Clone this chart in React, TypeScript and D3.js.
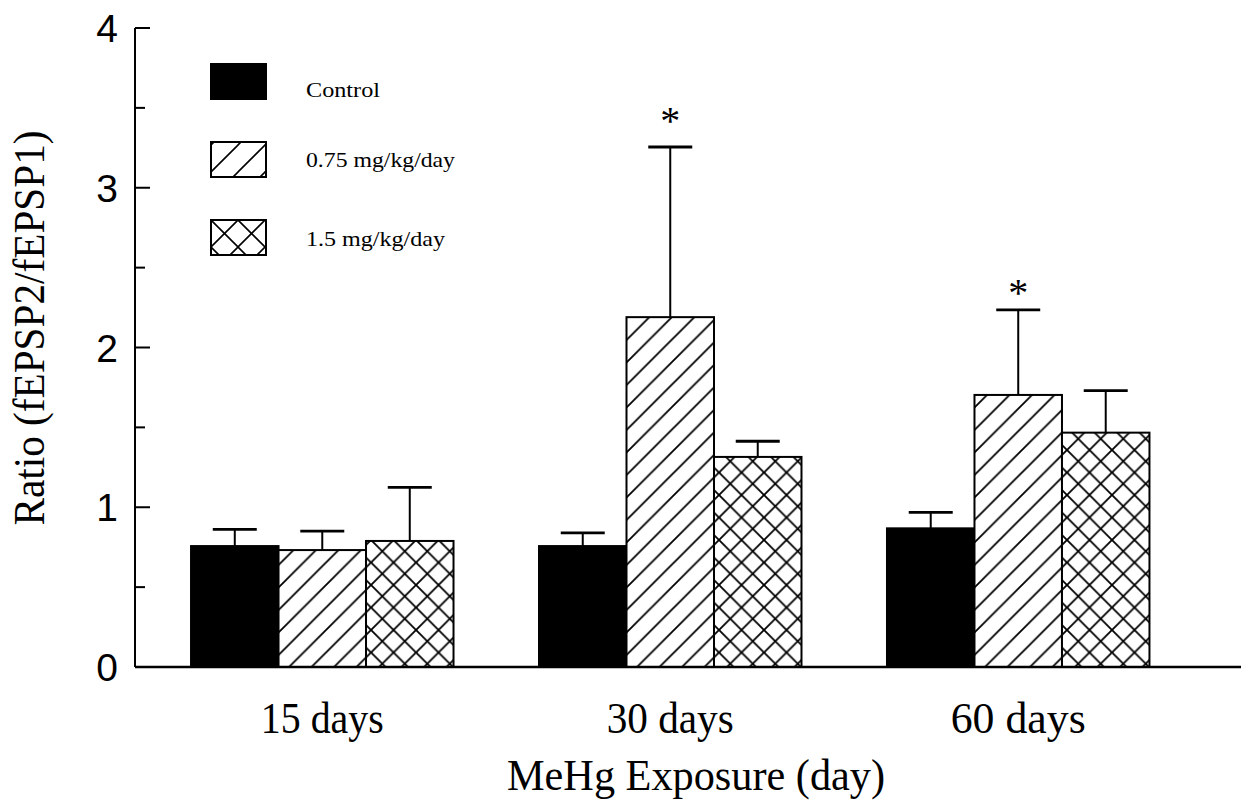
import React from 'react';
import * as d3 from 'd3';

const groups = ['15 days', '30 days', '60 days'];
const series = ['Control', '0.75 mg/kg/day', '1.5 mg/kg/day'];
const controlMean = [0.757, 0.757, 0.868];
const controlErr = [0.862, 0.84, 0.968];
const lowMean = [0.732, 2.19, 1.703];
const lowErr = [0.851, 3.255, 2.235];
const highMean = [0.789, 1.315, 1.467];
const highErr = [1.125, 1.413, 1.73];
const sigGroups = ['30 days', '60 days'];
const sigLevel = [3.45, 2.37];
const yTicks = [0, 1, 2, 3, 4];
const yMinorTicks = [0.5, 1.5, 2.5, 3.5];
const groupLabelWidths = [123, 127, 135];
const legendLabelWidths = [74, 149, 139];

const W = 1241;
const H = 810;
const axisX = 135;
const serif = '"Liberation Serif", "Times New Roman", serif';
const sans = '"Liberation Sans", Arial, sans-serif';

export default function App() {
  const y = d3.scaleLinear().domain([0, 4]).range([667, 28]);
  const x0 = d3
    .scaleBand<string>()
    .domain(groups)
    .range([148.3, 1192.2])
    .paddingInner(0.2457)
    .paddingOuter(0.1228);
  const x1 = d3.scaleBand<string>().domain(series).range([0, x0.bandwidth()]);
  const fills = ['#000', 'url(#diag)', 'url(#cross)'];
  const legendFills = ['#000', 'url(#diagL)', 'url(#crossL)'];
  const means = [controlMean, lowMean, highMean];
  const errs = [controlErr, lowErr, highErr];

  const s = 22.5;
  const diagPath = (p: number) =>
    `M0,${p} L${p},0 M${-p / 4},${p / 4} L${p / 4},${-p / 4} M${(3 * p) / 4},${(5 * p) / 4} L${(5 * p) / 4},${(3 * p) / 4}`;
  const backPath = (p: number) =>
    `M0,0 L${p},${p} M${-p / 4},${(3 * p) / 4} L${p / 4},${(5 * p) / 4} M${(3 * p) / 4},${-p / 4} L${(5 * p) / 4},${p / 4}`;
  const sl = 27;

  const legendY = [64, 142, 220];
  const legendBase = [97, 167, 246];

  return (
    <svg
      width={W}
      height={H}
      style={{ position: 'absolute', left: 0, top: 0, background: '#fff' }}
    >
      <defs>
        <pattern id="diag" patternUnits="userSpaceOnUse" width={s} height={s}>
          <rect width={s} height={s} fill="#fff" />
          <path d={diagPath(s)} stroke="#000" strokeWidth={1.8} />
        </pattern>
        <pattern id="cross" patternUnits="userSpaceOnUse" width={s} height={s}>
          <rect width={s} height={s} fill="#fff" />
          <path d={diagPath(s)} stroke="#000" strokeWidth={1.8} />
          <path d={backPath(s)} stroke="#000" strokeWidth={1.8} />
        </pattern>
        <pattern id="diagL" patternUnits="userSpaceOnUse" width={sl} height={sl} x={211} y={64}>
          <rect width={sl} height={sl} fill="#fff" />
          <path d={diagPath(sl)} stroke="#000" strokeWidth={1.6} />
        </pattern>
        <pattern id="crossL" patternUnits="userSpaceOnUse" width={sl} height={sl} x={211} y={220}>
          <rect width={sl} height={sl} fill="#fff" />
          <path d={diagPath(sl)} stroke="#000" strokeWidth={1.6} />
          <path d={backPath(sl)} stroke="#000" strokeWidth={1.6} />
        </pattern>
      </defs>

      {/* bars and error bars */}
      {groups.map((g, gi) => (
        <g key={g} transform={`translate(${x0(g)},0)`}>
          {series.map((sname, si) => {
            const bx = x1(sname) as number;
            const bw = x1.bandwidth();
            const cx = bx + bw / 2;
            const top = y(means[si][gi]);
            const et = y(errs[si][gi]);
            return (
              <g key={sname}>
                <line x1={cx} x2={cx} y1={top} y2={et} stroke="#000" strokeWidth={2} />
                <line x1={cx - 22} x2={cx + 22} y1={et} y2={et} stroke="#000" strokeWidth={2.8} />
                <rect
                  x={bx}
                  y={top}
                  width={bw}
                  height={y(0) - top}
                  fill={fills[si]}
                  stroke="#000"
                  strokeWidth={2}
                />
              </g>
            );
          })}
        </g>
      ))}

      {/* significance marks */}
      {sigGroups.map((g, i) => (
        <text
          key={g}
          x={(x0(g) as number) + (x1(series[1]) as number) + x1.bandwidth() / 2}
          y={y(sigLevel[i]) + 18}
          textAnchor="middle"
          fontFamily={serif}
          fontSize={40}
          fill="#000"
        >
          *
        </text>
      ))}

      {/* axes */}
      <line x1={axisX} x2={axisX} y1={y(4)} y2={y(0)} stroke="#000" strokeWidth={2} />
      <line x1={axisX} x2={W} y1={y(0)} y2={y(0)} stroke="#000" strokeWidth={2.5} />
      {yTicks.map((t) => (
        <g key={t}>
          <line x1={axisX} x2={axisX + 15} y1={y(t)} y2={y(t)} stroke="#000" strokeWidth={2} />
          <text
            x={118}
            y={y(t)}
            dy="0.36em"
            textAnchor="end"
            fontFamily={sans}
            fontSize={39}
            fill="#000"
          >
            {t}
          </text>
        </g>
      ))}
      {yMinorTicks.map((t) => (
        <line key={t} x1={axisX} x2={axisX + 10} y1={y(t)} y2={y(t)} stroke="#000" strokeWidth={2} />
      ))}

      {/* group labels */}
      {groups.map((g, gi) => (
        <text
          key={g}
          x={(x0(g) as number) + x0.bandwidth() / 2}
          y={733}
          textAnchor="middle"
          fontFamily={serif}
          fontSize={44}
          textLength={groupLabelWidths[gi]}
          lengthAdjust="spacingAndGlyphs"
          fill="#000"
        >
          {g}
        </text>
      ))}

      {/* axis titles */}
      <text
        x={696}
        y={790}
        textAnchor="middle"
        fontFamily={serif}
        fontSize={45}
        textLength={378}
        lengthAdjust="spacingAndGlyphs"
        fill="#000"
      >
        MeHg Exposure (day)
      </text>
      <text
        transform="translate(44,328) rotate(-90)"
        textAnchor="middle"
        fontFamily={serif}
        fontSize={44}
        textLength={395}
        lengthAdjust="spacingAndGlyphs"
        fill="#000"
      >
        Ratio (fEPSP2/fEPSP1)
      </text>

      {/* legend */}
      {series.map((sname, si) => (
        <g key={sname}>
          <rect
            x={211}
            y={legendY[si]}
            width={55}
            height={35}
            fill={legendFills[si]}
            stroke="#000"
            strokeWidth={2}
          />
          <text
            x={306}
            y={legendBase[si]}
            fontFamily={serif}
            fontSize={22}
            textLength={legendLabelWidths[si]}
            lengthAdjust="spacingAndGlyphs"
            fill="#000"
          >
            {sname}
          </text>
        </g>
      ))}
    </svg>
  );
}
